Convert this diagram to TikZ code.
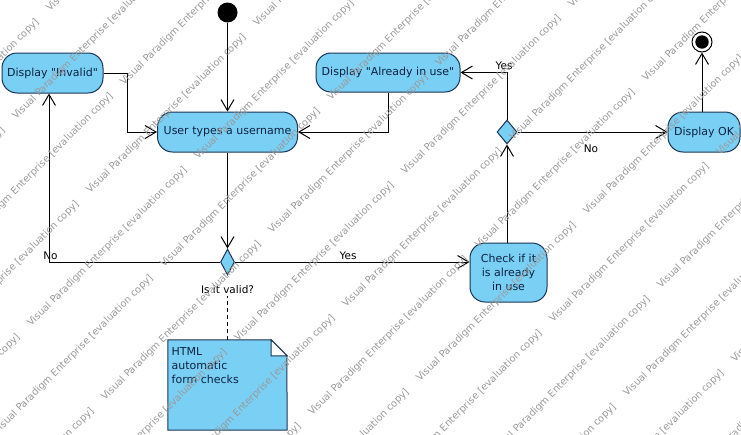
\documentclass[tikz,border=0pt]{standalone}
\usepackage{fontspec}
\setmainfont[Ligatures=TeXOff]{DejaVu Sans}
\usetikzlibrary{arrows.meta,shapes.geometric}

\definecolor{actfill}{HTML}{7ACFF5}
\definecolor{actline}{HTML}{1B3552}
\definecolor{acttext}{HTML}{0D2240}
\definecolor{wmark}{HTML}{9A9A9A}

\tikzset{
  act/.style={draw=actline, fill=actfill, rounded corners=15pt, line width=1pt,
    inner sep=0pt, text=acttext, font=\fontsize{11}{14}\selectfont, align=center},
  decision/.style={diamond, draw=actline, fill=actfill, line width=1pt, inner sep=0pt},
  flow/.style={line width=1pt, -{Straight Barb[length=11pt,width=13pt]}},
  guard/.style={font=\fontsize{10.5}{12}\selectfont, inner sep=0pt, anchor=base},
  notebody/.style={draw=actline, fill=actfill, line width=1pt},
  notelink/.style={line width=1pt, dash pattern=on 4pt off 3pt},
  wm/.style={anchor=base west, rotate=45, inner sep=0pt, text=wmark,
    font=\fontsize{9.8}{10}\selectfont}
}

\begin{document}
\begin{tikzpicture}[x=1pt,y=-1pt]
\useasboundingbox (0,0) rectangle (741,434);
\fill[white] (0,0) rectangle (741,434);

% start and end
\node[circle, fill=black, minimum size=20pt, inner sep=0pt] (init) at (227.5,12.5) {};
\node[circle, draw=black, fill=white, line width=1pt, minimum size=20pt, inner sep=0pt] (final) at (702,42) {};
\fill[black] (final.center) circle (6.7pt);

% actions
\node[act, minimum width=140pt, minimum height=40pt] (user) at (227.5,132) {User types a username};
\node[act, minimum width=101pt, minimum height=40pt] (invalid) at (52.5,73) {Display "Invalid"};
\node[act, minimum width=144pt, minimum height=39pt] (inuse) at (388,72.5) {Display "Already in use"};
\node[act, minimum width=77pt, minimum height=59pt] (check) at (508.5,272.5) {Check if it\\is already\\in use};
\node[act, minimum width=72pt, minimum height=40pt] (ok) at (704,132) {Display OK};

% decisions
\node[decision, minimum width=14pt, minimum height=26pt] (dvalid) at (227.5,262) {};
\node[decision, minimum width=20pt, minimum height=24pt] (dfree) at (507,132) {};

% flows
\draw[flow] (init) -- (user);
\draw[flow] (invalid.east) -- ++(24,0) |- (user.west);
\draw[flow] (inuse.south) |- (user.east);
\draw[flow] (user.south) -- (dvalid.north);
\draw[flow] (dvalid.west) -| ([xshift=-3.5pt]invalid.south);
\draw[flow] (dvalid.east) -- (dvalid.east -| check.west);
\draw[flow] (check.north -| dfree) -- (dfree.south);
\draw[flow] (dfree.north) |- (inuse.east);
\draw[flow] (dfree.east) -- (ok.west);
\draw[flow] (ok.north -| final) -- (final);

% guards
\node[guard] (gNo) at (50.5,259.5) {No};
\node[guard] (gYes) at (348,259.5) {Yes};
\node[guard] (gYes2) at (504,69.5) {Yes};
\node[guard] (gNo2) at (591,152.5) {No};
\node[guard] (validlbl) at (227.5,293) {Is it valid?};

% note
\node[minimum width=119pt, minimum height=90pt, inner sep=0pt] (note) at (227.5,385) {};
\draw[notebody] (note.north west) -- ++(103,0) -- ++(16,16) -- (note.south east) -- (note.south west) -- cycle;
\draw[draw=actline, fill=white, line width=1pt] (note.north east) ++(-16,0) -- ++(0,16) -- ++(16,0) -- cycle;
\node[anchor=north west, align=left, inner sep=0pt, text=acttext,
  font=\fontsize{11}{14}\selectfont] (notetext) at (171.5,347) {HTML\\automatic\\form checks};
\draw[notelink] (note.north) -- ([yshift=-3pt]validlbl.south);

% evaluation watermark
\begin{scope}
\clip (0,0) rectangle (741,434);
\foreach \j in {-5,...,5} {
  \foreach \i in {-8,...,6} {
    \pgfmathsetmacro\wx{420+74*\i+120.5*\j+12.5*abs(mod(\j,2))}
    \pgfmathsetmacro\wy{382+74*\i-46.5*\j-12.5*abs(mod(\j,2))}
    \node[wm] (wm-\i-\j) at (\wx,\wy) {Visual Paradigm Enterprise [evaluation copy]};
  }
}
\end{scope}
\end{tikzpicture}
\end{document}
